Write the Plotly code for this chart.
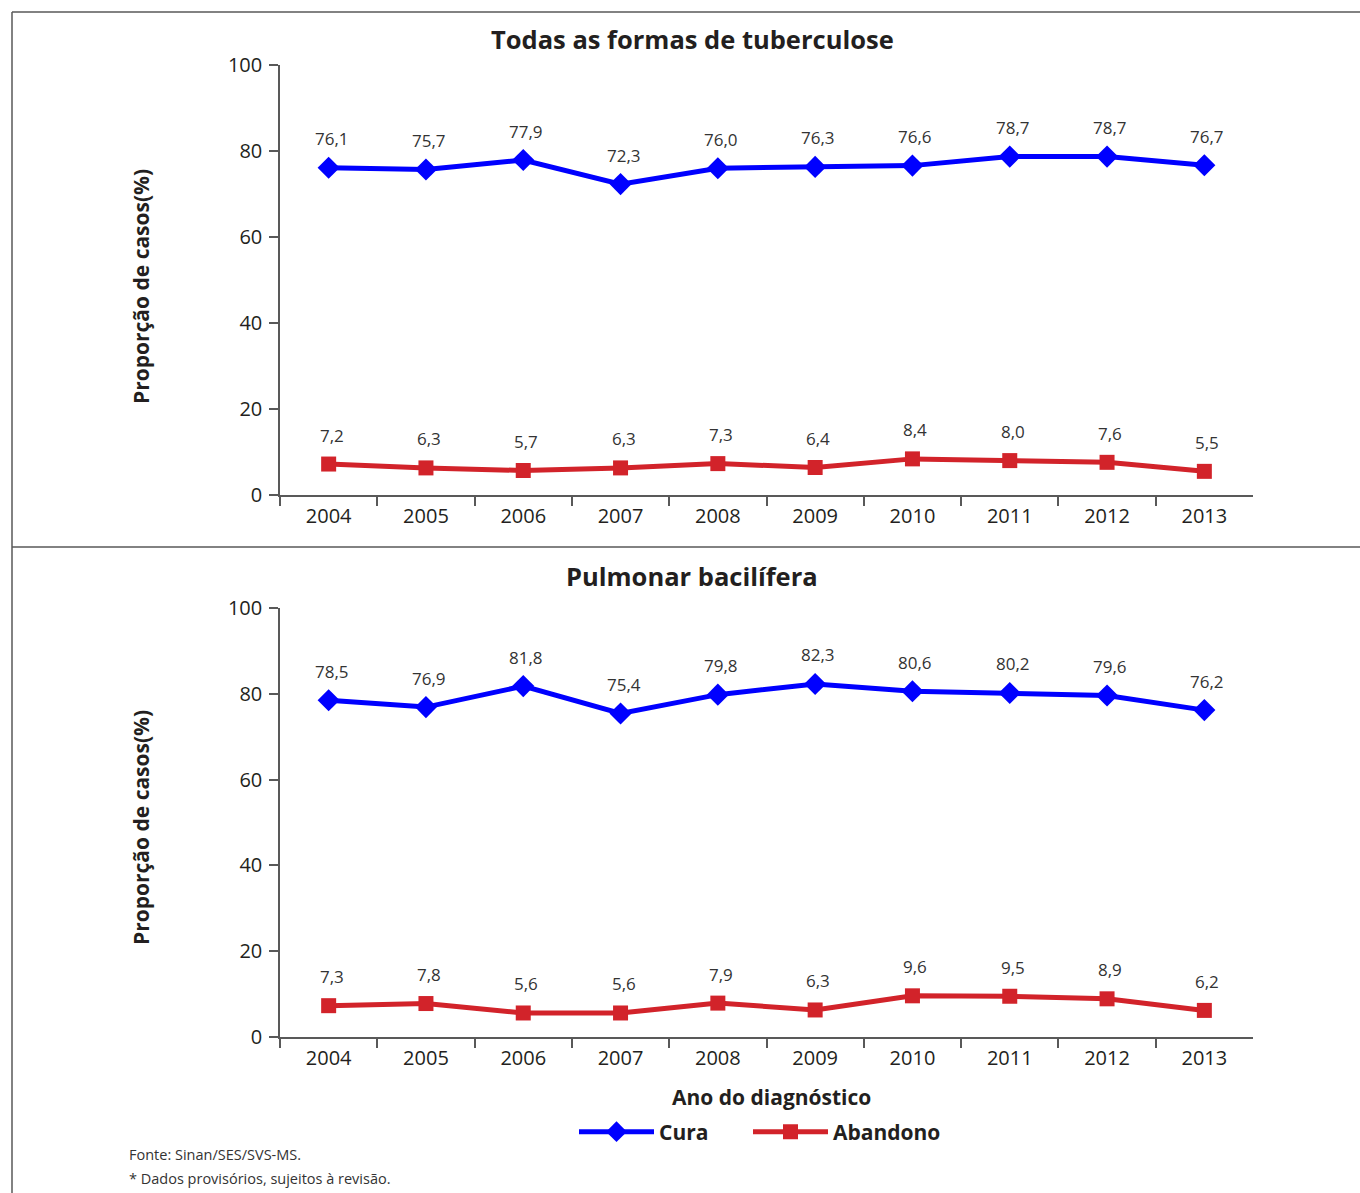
import plotly.graph_objects as go

# Years of diagnosis shown on both panels
anos = ["2004", "2005", "2006", "2007", "2008", "2009", "2010", "2011", "2012", "2013"]

# Panel 1: all forms of tuberculosis (%)
todas_cura = [76.1, 75.7, 77.9, 72.3, 76.0, 76.3, 76.6, 78.7, 78.7, 76.7]
todas_abandono = [7.2, 6.3, 5.7, 6.3, 7.3, 6.4, 8.4, 8.0, 7.6, 5.5]

# Panel 2: smear-positive pulmonary (%)
pulm_cura = [78.5, 76.9, 81.8, 75.4, 79.8, 82.3, 80.6, 80.2, 79.6, 76.2]
pulm_abandono = [7.3, 7.8, 5.6, 5.6, 7.9, 6.3, 9.6, 9.5, 8.9, 6.2]

titulos = ["Todas as formas de tuberculose", "Pulmonar bacilífera"]
eixo_y = "Proporção de casos(%)"
eixo_x = "Ano do diagnóstico"
notas = ["Fonte: Sinan/SES/SVS-MS.", "* Dados provisórios, sujeitos à revisão."]

W, H = 1360, 1193
FONT = "Open Sans, Noto Sans, sans-serif"
TXT = "#231f20"
AXC = "#595959"
AZUL = "#0000ff"
VERM = "#d2232a"


def px_x(v):
    return v / W


def px_y(v):
    return 1 - v / H


fig = go.Figure()

paineis = [
    (todas_cura, todas_abandono, "x", "y", True),
    (pulm_cura, pulm_abandono, "x2", "y2", False),
]

annotations = []
for cura, aband, xa, ya, first in paineis:
    fig.add_trace(go.Scatter(
        x=anos, y=cura, xaxis=xa, yaxis=ya, name="Cura", showlegend=not first,
        legend="legend",
        mode="lines+markers", line=dict(color=AZUL, width=5),
        marker=dict(symbol="diamond", size=17, color=AZUL),
    ))
    fig.add_trace(go.Scatter(
        x=anos, y=aband, xaxis=xa, yaxis=ya, name="Abandono", showlegend=not first,
        legend="legend2",
        mode="lines+markers", line=dict(color=VERM, width=5),
        marker=dict(symbol="square", size=15, color=VERM),
    ))
    # value labels above each point (category axes use the category index)
    for serie in (cura, aband):
        for i, v in enumerate(serie):
            annotations.append(dict(
                x=i, y=v, xref=xa, yref=ya, text=f"{v:.1f}".replace(".", ","),
                showarrow=False, yshift=29, xshift=3, yanchor="middle",
                font=dict(family=FONT, size=17, color="#333333"),
            ))


def texto(x, y, t, size, **kw):
    d = dict(x=px_x(x), y=px_y(y), xref="paper", yref="paper", text=t,
             showarrow=False, xanchor=kw.pop("xanchor", "center"), yanchor="middle",
             font=dict(family=FONT, size=size, color=kw.pop("color", TXT)))
    d.update(kw)
    return d


# Panel titles
annotations.append(texto(692, 39, f"<b>{titulos[0]}</b>", 25.5))
annotations.append(texto(692, 576, f"<b>{titulos[1]}</b>", 25.5))

# Y axis titles
for yc in (287, 828):
    annotations.append(texto(141, yc, f"<b>{eixo_y}</b>", 21, textangle=-90))

# X axis title
annotations.append(texto(771, 1097, f"<b>{eixo_x}</b>", 21))

# Footnotes
for yy, t in zip((1154, 1178), notas):
    annotations.append(texto(127, yy, t, 14.5, xanchor="left", color="#333333"))

x_dom = [px_x(280), px_x(1253)]
y1_dom = [px_y(495), px_y(65)]
y2_dom = [px_y(1037), px_y(608)]

xcommon = dict(
    type="category", domain=x_dom, range=[-0.5, 9.5],
    showline=True, linecolor=AXC, linewidth=1.5,
    ticks="outside", tickson="boundaries", ticklen=9, tickcolor=AXC, tickwidth=1.5,
    tickfont=dict(family=FONT, size=20, color=TXT), ticklabelstandoff=2,
    showgrid=False, zeroline=False, fixedrange=True, automargin=False,
)
ycommon = dict(
    range=[0, 100], dtick=20, showline=True, linecolor=AXC, linewidth=1.5,
    ticks="outside", ticklen=9, tickcolor=AXC, tickwidth=1.5,
    tickfont=dict(family=FONT, size=20, color=TXT), ticklabelstandoff=3,
    showgrid=False, zeroline=False, fixedrange=True, automargin=False,
)

# Outer frame and divider between the panels
shapes = [
    dict(type="line", xref="paper", yref="paper", x0=px_x(12), x1=px_x(12),
         y0=px_y(12), y1=0, line=dict(color=AXC, width=1.5)),
    dict(type="line", xref="paper", yref="paper", x0=px_x(12), x1=1,
         y0=px_y(12), y1=px_y(12), line=dict(color=AXC, width=1.5)),
    dict(type="line", xref="paper", yref="paper", x0=px_x(12), x1=1,
         y0=px_y(547), y1=px_y(547), line=dict(color=AXC, width=1.5)),
]

legend_base = dict(
    orientation="h", xanchor="left", yanchor="middle", y=px_y(1132),
    font=dict(family=FONT, size=21, color=TXT, weight="bold"),
    bgcolor="rgba(0,0,0,0)", itemwidth=75,
)

fig.update_layout(
    width=W, height=H, margin=dict(l=0, r=0, t=0, b=0, pad=0, autoexpand=False),
    paper_bgcolor="white", plot_bgcolor="white",
    xaxis=dict(xcommon, anchor="y"),
    yaxis=dict(ycommon, domain=y1_dom, anchor="x"),
    xaxis2=dict(xcommon, anchor="y2"),
    yaxis2=dict(ycommon, domain=y2_dom, anchor="x2"),
    annotations=annotations, shapes=shapes,
    legend=dict(legend_base, x=px_x(574)),
    legend2=dict(legend_base, x=px_x(748)),
    showlegend=True,
    font=dict(family=FONT),
)

fig.write_html("out.html")
